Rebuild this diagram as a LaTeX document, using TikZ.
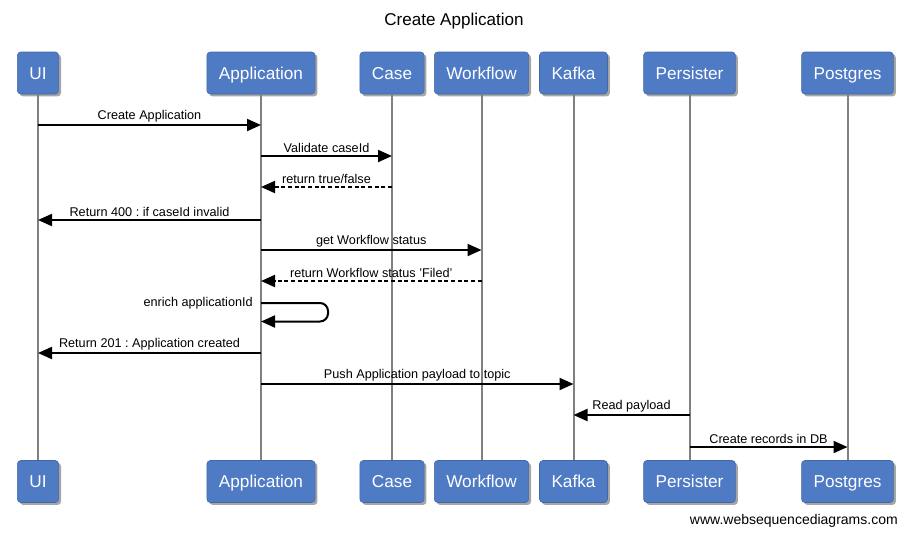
\documentclass[tikz,border=0pt]{standalone}
\usepackage{fontspec}
\setmainfont{Liberation Sans}
\usetikzlibrary{arrows.meta,shadows}
\frenchspacing

\definecolor{actorblue}{RGB}{79,122,196}
\definecolor{lifegray}{RGB}{128,128,128}

\tikzset{
  actor/.style={draw=actorblue!85!black, fill=actorblue, rounded corners=2.5pt,
    text=white, font=\fontsize{12.9}{15}\selectfont,
    minimum height=31.5pt, inner xsep=9pt, text height=9.4pt, text depth=0.2pt,
    drop shadow={shadow xshift=1.8pt, shadow yshift=-1.8pt, opacity=0.35, fill=black}},
  lifeline/.style={draw=lifegray, line width=1.5pt},
  msg/.style={line width=1.5pt, -{Triangle[length=10.5pt,width=9pt]}},
  reply/.style={msg, dash pattern=on 3pt off 2pt},
  lbl/.style={font=\fontsize{9.5}{11}\selectfont, inner sep=1.5pt}
}

\begin{document}
\begin{tikzpicture}[x=0.75pt,y=-0.75pt]
    \useasboundingbox (0,0) rectangle (908,537);

    % Title
    \node[font=\fontsize{12.8}{15}\selectfont] (title) at (454,21) {Create Application};

    % Participants at the top
    \node[actor] (ui)   at (38,73)    {UI};
    \node[actor] (app)  at (261,73)   {Application};
    \node[actor] (case) at (392,73)   {Case};
    \node[actor] (wf)   at (481.5,73) {Workflow};
    \node[actor] (kafka) at (573.5,73) {Kafka};
    \node[actor] (pers) at (689.5,73) {Persister};
    \node[actor] (pg)   at (847.5,73) {Postgres};

    % Participants at the bottom
    \node[actor] (uiB)   at (38,481.5)    {UI};
    \node[actor] (appB)  at (261,481.5)   {Application};
    \node[actor] (caseB) at (392,481.5)   {Case};
    \node[actor] (wfB)   at (481.5,481.5) {Workflow};
    \node[actor] (kafkaB) at (573.5,481.5) {Kafka};
    \node[actor] (persB) at (689.5,481.5) {Persister};
    \node[actor] (pgB)   at (847.5,481.5) {Postgres};

    % Lifelines
    \draw[lifeline] (ui) -- (uiB);
    \draw[lifeline] (app) -- (appB);
    \draw[lifeline] (case) -- (caseB);
    \draw[lifeline] (wf) -- (wfB);
    \draw[lifeline] (kafka) -- (kafkaB);
    \draw[lifeline] (pers) -- (persB);
    \draw[lifeline] (pg) -- (pgB);

    % Message levels
    \coordinate (m1) at (0,125);
    \coordinate (m2) at (0,156);
    \coordinate (m3) at (0,187);
    \coordinate (m4) at (0,220);
    \coordinate (m5) at (0,250);
    \coordinate (m6) at (0,281);
    \coordinate (m7) at (0,303);
    \coordinate (m7b) at (0,321.5);
    \coordinate (m8) at (0,353);
    \coordinate (m9) at (0,384);
    \coordinate (m10) at (0,415);
    \coordinate (m11) at (0,447);

    % Messages
    \draw[msg] (ui |- m1) -- node[lbl, above] {Create Application} (app |- m1);
    \draw[msg] (app |- m2) -- node[lbl, above] {Validate caseId} (case |- m2);
    \draw[reply] (case |- m3) -- node[lbl, above] {return true/false} (app |- m3);
    \draw[msg] (app |- m4) -- node[lbl, above] {Return 400 : if caseId invalid} (ui |- m4);
    \draw[msg] (app |- m5) -- node[lbl, above] {get Workflow status} (wf |- m5);
    \draw[reply] (wf |- m6) -- node[lbl, above] {return Workflow status 'Filed'} (app |- m6);

    % Self call on Application
    \draw[msg, rounded corners=6pt] (app |- m7) -- ++(67,0) -- ++(0,18.5) -- (app |- m7b);
    \node[lbl, anchor=east] (enrich) at ([xshift=-4.5pt]app |- m7) {enrich applicationId};

    \draw[msg] (app |- m8) -- node[lbl, above] {Return 201 : Application created} (ui |- m8);
    \draw[msg] (app |- m9) -- node[lbl, above] {Push Application payload to topic} (kafka |- m9);
    \draw[msg] (pers |- m10) -- node[lbl, above] {Read payload} (kafka |- m10);
    \draw[msg] (pers |- m11) -- node[lbl, above] {Create records in DB} (pg |- m11);

    % Footer
    \node[anchor=east, font=\fontsize{10.5}{12}\selectfont, inner sep=0pt] (credit) at (898,521) {www.websequencediagrams.com};
\end{tikzpicture}
\end{document}
